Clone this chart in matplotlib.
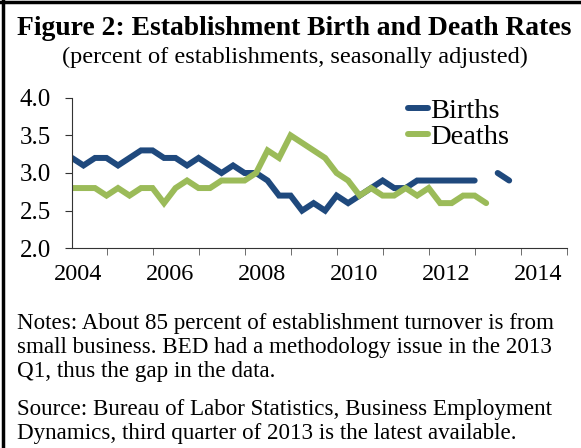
import numpy as np
import matplotlib
matplotlib.use('Agg')
import matplotlib.pyplot as plt

# quarterly values, index 0 = 2004Q1
births_a = [3.2, 3.1, 3.2, 3.2, 3.1, 3.2, 3.3, 3.3, 3.2, 3.2,
            3.1, 3.2, 3.1, 3.0, 3.1, 3.0, 3.0, 2.9, 2.7, 2.7,
            2.5, 2.6, 2.5, 2.7, 2.6, 2.7, 2.8, 2.9, 2.8, 2.8,
            2.9, 2.9, 2.9, 2.9, 2.9, 2.9]
births_b = [3.0, 2.9]  # 2013Q2-Q3, after the gap
deaths = [2.8, 2.8, 2.8, 2.7, 2.8, 2.7, 2.8, 2.8, 2.6, 2.8,
          2.9, 2.8, 2.8, 2.9, 2.9, 2.9, 3.0, 3.3, 3.2, 3.5,
          3.4, 3.3, 3.2, 3.0, 2.9, 2.7, 2.8, 2.7, 2.7, 2.8,
          2.7, 2.8, 2.6, 2.6, 2.7, 2.7, 2.6]
year_labels = ['2004', '2006', '2008', '2010', '2012', '2014']

blue = '#1F497D'
green = '#9BBB59'

plt.rcParams['font.family'] = ['Liberation Serif', 'DejaVu Serif']

fig = plt.figure(figsize=(5.81, 4.48), dpi=100)
ax = fig.add_axes([0.1239, 0.4458, 0.8515, 0.3361])

x_a = np.arange(len(births_a))
x_b = np.arange(len(births_b)) + len(births_a) + 1
x_d = np.arange(len(deaths))

ax.plot(x_a, births_a, color=blue, lw=4.3, solid_capstyle='round',
        solid_joinstyle='miter', label='Births')
ax.plot(x_b, births_b, color=blue, lw=4.3, solid_capstyle='round')
ax.plot(x_d, deaths, color=green, lw=4.3, solid_capstyle='round',
        solid_joinstyle='miter', label='Deaths')

ax.set_xlim(0, 43)
ax.set_ylim(2.0, 4.0)
ax.set_yticks(np.arange(2.0, 4.01, 0.5))
ax.set_yticklabels(['%.1f' % v for v in np.arange(2.0, 4.01, 0.5)], fontsize=18)

# year labels sit between tick marks, ticks every 4 quarters
ax.set_xticks(np.arange(len(year_labels)) * 8 + 0.5)
ax.set_xticklabels(year_labels, fontsize=17.5)
ax.tick_params(axis='x', which='major', length=0, pad=11)
ax.set_xticks(np.arange(3, 44, 4), minor=True)
ax.tick_params(axis='x', which='minor', length=5, direction='out', color='#555555')
ax.tick_params(axis='y', length=5, direction='out', pad=10, color='#333333')

for s in ['top', 'right']:
    ax.spines[s].set_visible(False)
ax.spines['left'].set_color('#333333')
ax.spines['bottom'].set_color('#333333')

leg = ax.legend(loc='upper left', bbox_to_anchor=(0.65, 1.09), frameon=False,
                fontsize=20.5, handlelength=0.7, handletextpad=0.1,
                labelspacing=0.0, borderpad=0)

fig.text(0.507, 0.937, 'Figure 2: Establishment Birth and Death Rates',
         ha='center', va='center', fontsize=19.9, fontweight='bold')
fig.text(0.507, 0.872, '(percent of establishments, seasonally adjusted)',
         ha='center', va='center', fontsize=17.6)

notes = ['Notes: About 85 percent of establishment turnover is from',
         'small business. BED had a methodology issue in the 2013',
         'Q1, thus the gap in the data.']
source = ['Source: Bureau of Labor Statistics, Business Employment',
          'Dynamics, third quarter of 2013 is the latest available.']
for k, line in enumerate(notes):
    fig.text(17 / 581, 1 - (323 + 24 * k) / 448, line, ha='left', va='center', fontsize=16.6)
for k, line in enumerate(source):
    fig.text(17 / 581, 1 - (409 + 24 * k) / 448, line, ha='left', va='center', fontsize=16.6)

# frame lines on the top and left edges
fig.add_artist(plt.Line2D([0.006, 0.006], [0, 1], color='black', lw=2.5))
fig.add_artist(plt.Line2D([0, 1], [0.995, 0.995], color='black', lw=2.5))

fig.savefig('out.png', dpi=100)
